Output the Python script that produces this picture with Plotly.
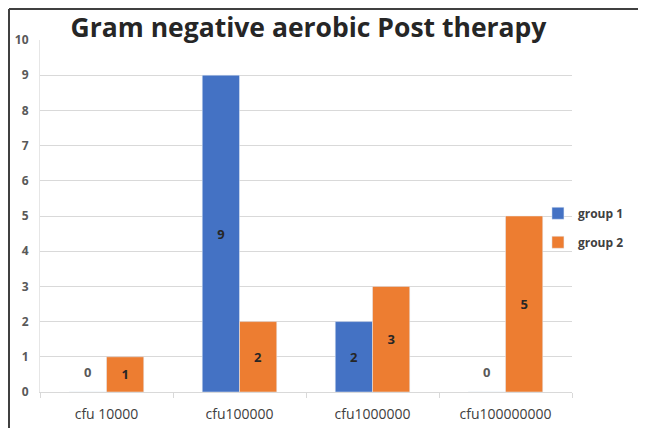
import plotly.graph_objects as go

categories = ["cfu 10000", "cfu100000", "cfu1000000", "cfu100000000"]
group1 = [0, 9, 2, 0]
group2 = [1, 2, 3, 5]
series_names = ["group 1", "group 2"]
colors = ["#4472C4", "#ED7D31"]
title_text = "Gram negative aerobic Post therapy"
y_ticks = list(range(0, 11))

fig = go.Figure()
for name, vals, col in zip(series_names, [group1, group2], colors):
    fig.add_trace(go.Bar(
        x=categories, y=vals, name=name, marker_color=col,
        text=[str(v) if v > 0 else "" for v in vals],
        textposition="inside", insidetextanchor="middle",
        textfont=dict(family="Open Sans", size=13, color="#262626", weight="bold"),
        textangle=0,
        legendgroup=name,
        offsetgroup=name,
    ))

# zero labels (Excel shows them near the baseline)
for si, vals in enumerate([group1, group2]):
    for ci, v in enumerate(vals):
        if v == 0:
            fig.add_annotation(
                x=ci + (-0.14 if si == 0 else 0.14), y=0.57, xref="x", yref="y",
                text=str(v), showarrow=False,
                font=dict(family="Open Sans", size=13, color="#595959", weight="bold"),
            )

# the page adds an 8px body margin, so the figure is drawn 8px smaller
W, H = 638, 420
L, R, T, B = 32, 74, 32, 36
PW, PH = W - L - R, H - T - B

fig.update_layout(
    width=W, height=H,
    margin=dict(l=L, r=R, t=T, b=B, autoexpand=False),
    paper_bgcolor="white", plot_bgcolor="white",
    bargap=0.44, bargroupgap=0,
    barmode="group",
    title=dict(text=title_text, x=0.471, xanchor="center", y=0.952, yanchor="middle",
               font=dict(family="Open Sans", size=26.5, color="#262626", weight="bold")),
    legend=dict(x=0.936, y=0.549, xanchor="left", yanchor="top",
                bgcolor="rgba(0,0,0,0)",
                font=dict(family="Open Sans", size=12, color="#404040", weight="bold"),
                tracegroupgap=10, itemwidth=30),
    showlegend=True,
)
fig.update_xaxes(
    type="category", showgrid=False, showline=True, linecolor="#D9D9D9", linewidth=1,
    ticks="outside", tickson="boundaries", ticklen=5, tickcolor="#D9D9D9",
    ticklabelstandoff=9,
    tickfont=dict(family="Open Sans", size=14, color="#404040"),
)
fig.update_yaxes(
    range=[0, 10], tickvals=y_ticks, showgrid=True, gridcolor="#D9D9D9",
    showline=True, linecolor="#E6E6E6", zeroline=False,
    ticks="", ticklabelstandoff=8,
    tickfont=dict(family="Open Sans", size=12, color="#595959", weight="bold"),
)

# image frame (left and top edges)
fx = (1 - L) / PW
fy = 1 + (T - 1) / PH
fig.add_shape(type="line", xref="paper", yref="paper",
              x0=fx, x1=fx, y0=-B / PH, y1=fy,
              line=dict(color="#404040", width=2))
fig.add_shape(type="line", xref="paper", yref="paper",
              x0=fx, x1=1 + R / PW, y0=fy, y1=fy,
              line=dict(color="#404040", width=2))

fig.write_html("out.html")
